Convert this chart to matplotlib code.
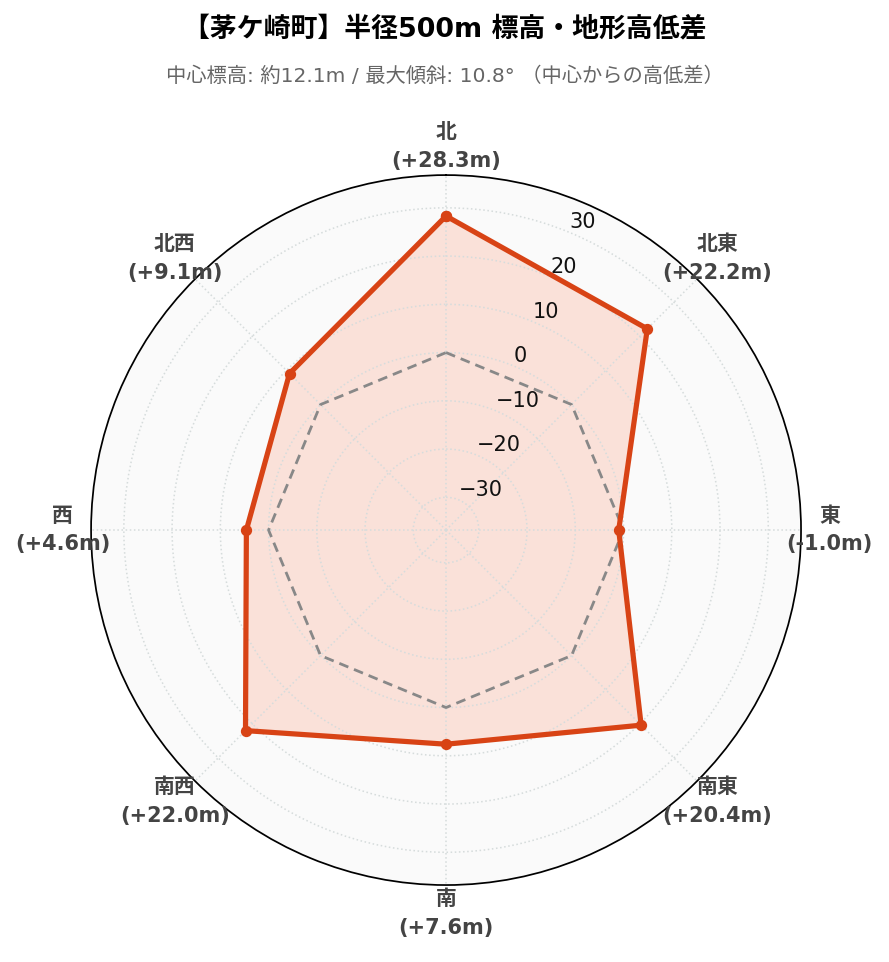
import numpy as np
from matplotlib import pyplot as plt

plt.rcParams['font.family'] = ['DejaVu Sans', 'Noto Sans CJK JP']
plt.rcParams['axes.unicode_minus'] = True

# データ
directions = ["北", "北東", "東", "南東", "南", "南西", "西", "北西"]
diffs = [28.3, 22.2, -1.0, 20.4, 7.6, 22.0, 4.6, 9.1]
rticks = [-30, -20, -10, 0, 10, 20, 30]
title = "【茅ケ崎町】半径500m 標高・地形高低差"
subtitle = "中心標高: 約12.1m / 最大傾斜: 10.8° （中心からの高低差）"

line_color = "#d84315"
fill_color = "#ff5722"

n = len(directions)
angles = np.arange(n) * 2 * np.pi / n
a_closed = np.append(angles, angles[0])
d_closed = np.append(diffs, diffs[0])
lim = max(abs(v) for v in diffs) * 1.3

fig = plt.figure(figsize=(889 / 125, 962 / 125), dpi=125)
ax = fig.add_axes([0.1024, 0.080, 0.7987, 0.738], projection="polar")
ax.set_theta_zero_location("N")
ax.set_theta_direction(-1)
ax.set_facecolor("#fafafa")

# 基準線 (高低差0)
ax.plot(a_closed, np.zeros(len(a_closed)), color="#888888", lw=1.6, ls=(0, (3.5, 2.2)), zorder=3)

ax.fill(a_closed, d_closed, color=fill_color, alpha=0.15, lw=0, zorder=1)
ax.plot(a_closed, d_closed, color=line_color, lw=3.0, marker="o", ms=5.5, zorder=4)

ax.set_ylim(-lim, lim)
ax.set_yticks(rticks)
ax.set_rlabel_position(22.5)
ax.tick_params(axis="y", labelsize=12, colors="#111111")

labels = [f"{d}\n({v:+.1f}m)" for d, v in zip(directions, diffs)]
ax.set_xticks(angles)
ax.set_xticklabels(labels, fontsize=12, fontweight="bold", color="#444444", linespacing=1.55)
ax.tick_params(axis="x", pad=6)

ax.set_axisbelow(False)
ax.grid(True, color="#d6dcdc", ls=":", lw=0.9, zorder=2)
ax.spines["polar"].set_color("black")
ax.spines["polar"].set_linewidth(1.0)

fig.text(0.5, 0.969, title, ha="center", va="center", fontsize=15.5, fontweight="bold")
fig.text(0.5, 0.921, subtitle, ha="center", va="center", fontsize=11.7, color="#666666")

fig.savefig("out.png", dpi=125)
